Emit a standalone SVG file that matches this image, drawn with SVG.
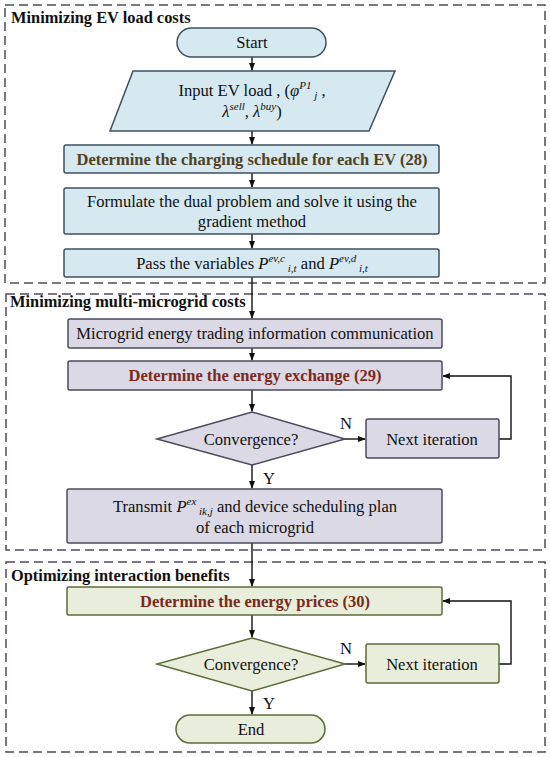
<svg xmlns="http://www.w3.org/2000/svg" width="550" height="757" viewBox="0 0 550 757">
<style>
text{font-family:"Liberation Serif","Times New Roman",serif;fill:#111}
.t{font-size:16.6px;text-anchor:middle}
.h{font-size:16.4px;font-weight:bold}
.b{font-size:16.5px;font-weight:bold;text-anchor:middle}
.sec{fill:none;stroke:#4d4a5e;stroke-width:1.5;stroke-dasharray:9,5}
.blue{fill:#d6e8f0;stroke:#3e5060;stroke-width:1.5}
.pur{fill:#dcd9e6;stroke:#4a4a5c;stroke-width:1.5}
.grn{fill:#e8eedb;stroke:#5c6b3a;stroke-width:1.5}
.c{fill:none;stroke:#111;stroke-width:1.4}
.s{font-size:11px;font-style:italic}
.i{font-style:italic}
</style>
<defs>
<marker id="ah" markerWidth="8" markerHeight="8" refX="7" refY="4" orient="auto" markerUnits="userSpaceOnUse">
<path d="M0,1 L8,4 L0,7 Z" fill="#111"/>
</marker>
</defs>

<g id="sections">
<rect class="sec" x="5" y="5" width="540" height="278"/>
<rect class="sec" x="6" y="294" width="539" height="256"/>
<rect class="sec" x="6" y="562" width="539" height="190"/>
<text class="h" x="11" y="23">Minimizing EV load costs</text>
<text class="h" x="10" y="307">Minimizing multi-microgrid costs</text>
<text class="h" x="11" y="581">Optimizing interaction benefits</text>
</g>

<g id="connectors">
<line class="c" x1="252" y1="57" x2="252" y2="70" marker-end="url(#ah)"/>
<line class="c" x1="252" y1="131" x2="252" y2="144" marker-end="url(#ah)"/>
<line class="c" x1="252" y1="173" x2="252" y2="187" marker-end="url(#ah)"/>
<line class="c" x1="252" y1="234" x2="252" y2="248" marker-end="url(#ah)"/>
<line class="c" x1="252" y1="277" x2="252" y2="318" marker-end="url(#ah)"/>
<line class="c" x1="252" y1="348" x2="252" y2="360" marker-end="url(#ah)"/>
<line class="c" x1="252" y1="390" x2="252" y2="411" marker-end="url(#ah)"/>
<line class="c" x1="345" y1="439" x2="365" y2="439" marker-end="url(#ah)"/>
<polyline class="c" points="499,439 511,439 511,376 443,376" marker-end="url(#ah)"/>
<line class="c" x1="252" y1="465" x2="252" y2="488" marker-end="url(#ah)"/>
<line class="c" x1="252" y1="543" x2="252" y2="586" marker-end="url(#ah)"/>
<line class="c" x1="252" y1="615" x2="252" y2="637" marker-end="url(#ah)"/>
<line class="c" x1="345" y1="664" x2="365" y2="664" marker-end="url(#ah)"/>
<polyline class="c" points="499,664 511,664 511,601 443,601" marker-end="url(#ah)"/>
<line class="c" x1="252" y1="691" x2="252" y2="714" marker-end="url(#ah)"/>
<text class="t" x="346" y="429">N</text>
<text class="t" x="269" y="484">Y</text>
<text class="t" x="346" y="654">N</text>
<text class="t" x="269" y="709">Y</text>
</g>

<g id="start">
<rect class="blue" x="177" y="28" width="149" height="29" rx="14.5"/>
<text class="t" x="252" y="48">Start</text>
</g>

<g id="input">
<polygon class="blue" points="133,71 395,71 369,131 110,131"/>
<text class="t" x="252" y="96">Input  EV load , (<tspan class="i">φ</tspan><tspan class="s" dy="-7">P1</tspan><tspan class="s" dy="10"> j</tspan><tspan dy="-3"> ,</tspan></text>
<text class="t" x="252" y="117"><tspan class="i">λ</tspan><tspan class="s" dy="-7">sell</tspan><tspan dy="7">, </tspan><tspan class="i">λ</tspan><tspan class="s" dy="-7">buy</tspan><tspan dy="7">)</tspan></text>
</g>

<g id="charging">
<rect class="blue" x="64" y="145" width="375" height="28" rx="2"/>
<text class="b" x="252" y="165" style="fill:#4f4220">Determine the charging schedule for each EV (28)</text>
</g>

<g id="dual">
<rect class="blue" x="64" y="188" width="375" height="46" rx="2"/>
<text class="t" x="252" y="207">Formulate the dual problem and solve it using the</text>
<text class="t" x="252" y="227">gradient method</text>
</g>

<g id="pass">
<rect class="blue" x="64" y="249" width="375" height="28" rx="2"/>
<text class="t" x="252" y="269">Pass the variables <tspan class="i">P</tspan><tspan class="s" dy="-7">ev,c</tspan><tspan class="s" dy="10"> i,t</tspan><tspan dy="-3"> and </tspan><tspan class="i">P</tspan><tspan class="s" dy="-7">ev,d</tspan><tspan class="s" dy="10"> i,t</tspan></text>
</g>

<g id="comm">
<rect class="pur" x="68" y="319" width="374" height="29" rx="2"/>
<text class="t" x="255" y="339">Microgrid energy trading information communication</text>
</g>

<g id="exchange">
<rect class="pur" x="68" y="361" width="374" height="29" rx="2"/>
<text class="b" x="255" y="381" style="fill:#7a2a1c">Determine the energy exchange (29)</text>
</g>

<g id="conv1">
<polygon class="pur" points="252,412 345,439 252,465 157,439"/>
<text class="t" x="251" y="445">Convergence?</text>
</g>

<g id="next1">
<rect class="pur" x="366" y="419" width="133" height="39" rx="2"/>
<text class="t" x="432" y="445">Next iteration</text>
</g>

<g id="transmit">
<rect class="pur" x="67" y="489" width="375" height="54" rx="2"/>
<text class="t" x="255" y="512">Transmit  <tspan class="i">P</tspan><tspan class="s" dy="-7">ex</tspan><tspan class="s" dy="10"> ik,j</tspan><tspan dy="-3"> and device scheduling plan</tspan></text>
<text class="t" x="255" y="533">of each microgrid</text>
</g>

<g id="prices">
<rect class="grn" x="67" y="587" width="375" height="28" rx="2"/>
<text class="b" x="255" y="607" style="fill:#7a2a1c">Determine the energy prices (30)</text>
</g>

<g id="conv2">
<polygon class="grn" points="252,638 345,664 252,691 157,664"/>
<text class="t" x="251" y="670">Convergence?</text>
</g>

<g id="next2">
<rect class="grn" x="366" y="644" width="133" height="39" rx="2"/>
<text class="t" x="432" y="670">Next iteration</text>
</g>

<g id="end">
<rect class="grn" x="176" y="715" width="149" height="28" rx="14"/>
<text class="t" x="251" y="735">End</text>
</g>
</svg>
